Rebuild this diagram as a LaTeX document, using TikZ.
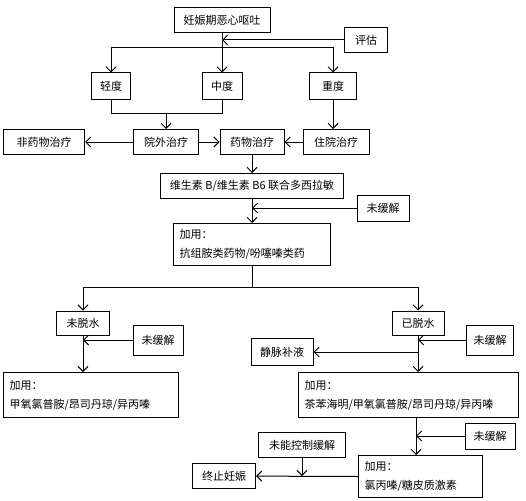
\documentclass[tikz,border=0pt]{standalone}
\usepackage{fontspec}
\setmainfont{Noto Sans CJK SC}
\usepackage{tikz}
\usetikzlibrary{arrows.meta,positioning,calc}

\begin{document}
\begin{tikzpicture}[x=1pt, y=-1pt,
    box/.style={draw, line width=1pt, minimum height=25pt, inner sep=2pt, font=\fontsize{11}{19}\selectfont},
    tallbox/.style={box, align=left, anchor=north west, inner xsep=6pt, minimum height=45pt},
    link/.style={line width=1pt, -{Straight Barb[length=5pt,width=10pt]}},
    wire/.style={line width=1pt}]
    \useasboundingbox (0,0) rectangle (526,500);

    % Assessment (top)
    \node[box, minimum width=96pt] (start) at (222,20) {妊娠期恶心呕吐};
    \node[box, minimum width=43pt] (assess) at (366,40) {评估};
    \node[box, minimum width=39pt, minimum height=26pt] (mild) at (111,86) {轻度};
    \node[box, minimum width=40pt, minimum height=26pt] (moderate) at (222,86) {中度};
    \node[box, minimum width=47pt, minimum height=26pt] (severe) at (333,86) {重度};
    \coordinate (fork) at (222,48);
    \draw[link] (assess.west) -- (assess.west -| start.south);
    \draw[link] (start) -- (moderate);
    \draw[link] (fork) -| (mild);
    \draw[link] (fork) -| (severe);

    % Treatment setting
    \node[box, minimum width=81pt] (nondrug) at (44,142) {非药物治疗};
    \node[box, minimum width=65pt] (outpat) at (166,142) {院外治疗};
    \node[box, minimum width=64pt] (drug) at (252,142) {药物治疗};
    \node[box, minimum width=66pt] (inpat) at (336,142) {住院治疗};
    \coordinate (merge) at (166,113);
    \draw[wire] (mild.south) |- (moderate.south |- merge) -- (moderate.south);
    \draw[link] (merge) -- (outpat);
    \draw[link] (severe) -- (severe |- inpat.north);
    \draw[link] (outpat) -- (nondrug);
    \draw[link] (outpat) -- (drug);
    \draw[link] (inpat) -- (drug);

    % First-line drugs
    \node[box, minimum width=183pt] (vitb) at (252,186) {维生素 B/维生素 B6 联合多西拉敏};
    \node[box, minimum width=52pt, minimum height=26pt] (nr1) at (383,208) {未缓解};
    \node[tallbox, text width=145pt, minimum height=42pt] (add1) at (173,223) {加用：\\抗组胺类药物/吩噻嗪类药};
    \draw[link] (drug) -- (vitb);
    \draw[link] (nr1.west) -- (nr1.west -| vitb.south);
    \draw[link] (vitb.south) -- (vitb.south |- add1.north);

    % Dehydration split
    \coordinate (split) at (252,287);
    \node[box, minimum width=53pt, minimum height=24pt] (nodehyd) at (83,323) {未脱水};
    \node[box, minimum width=52pt, minimum height=24pt] (dehyd) at (418,323) {已脱水};
    \draw[wire] (add1.south -| split) -- (split);
    \draw[link] (split) -| (nodehyd);
    \draw[link] (split) -| (dehyd);

    % Not dehydrated (left)
    \node[box, minimum width=50pt, minimum height=30pt] (nr2) at (158,340) {未缓解};
    \node[tallbox, text width=163pt] (add2) at (3,372) {加用：\\甲氧氯普胺/昂司丹琼/异丙嗪};
    \draw[link] (nr2.west) -- (nr2.west -| nodehyd.south);
    \draw[link] (nodehyd) -- (nodehyd |- add2.north);

    % Dehydrated (right)
    \node[box, minimum width=47pt, minimum height=30pt] (nr3) at (490,340) {未缓解};
    \node[box, minimum width=62pt, minimum height=27pt] (iv) at (282,352) {静脉补液};
    \node[tallbox, text width=208pt] (add3) at (298,372) {加用：\\茶苯海明/甲氧氯普胺/昂司丹琼/异丙嗪};
    \coordinate (ivjoin) at (418,352);
    \draw[link] (nr3.west) -- (nr3.west -| dehyd.south);
    \draw[link] (ivjoin) -- (iv);
    \draw[link] (dehyd) -- (dehyd |- add3.north);

    % Last line
    \node[box, minimum width=50pt, minimum height=26pt] (nr4) at (490,436) {未缓解};
    \node[tallbox, text width=112pt, minimum height=42pt] (add4) at (358,455) {加用：\\氯丙嗪/糖皮质激素};
    \node[box, minimum width=63pt] (stop) at (224,476) {终止妊娠};
    \node[box, minimum width=87pt] (uncontrolled) at (302,445) {未能控制缓解};
    \coordinate (down4) at (416,436);
    \draw[link] (nr4) -- (down4);
    \draw[link] (down4 |- add3.south) -- (down4 |- add4.north);
    \draw[link] (add4.west) -- (stop);
    \draw[link] (uncontrolled.south) -- (uncontrolled.south |- stop);
\end{tikzpicture}
\end{document}
